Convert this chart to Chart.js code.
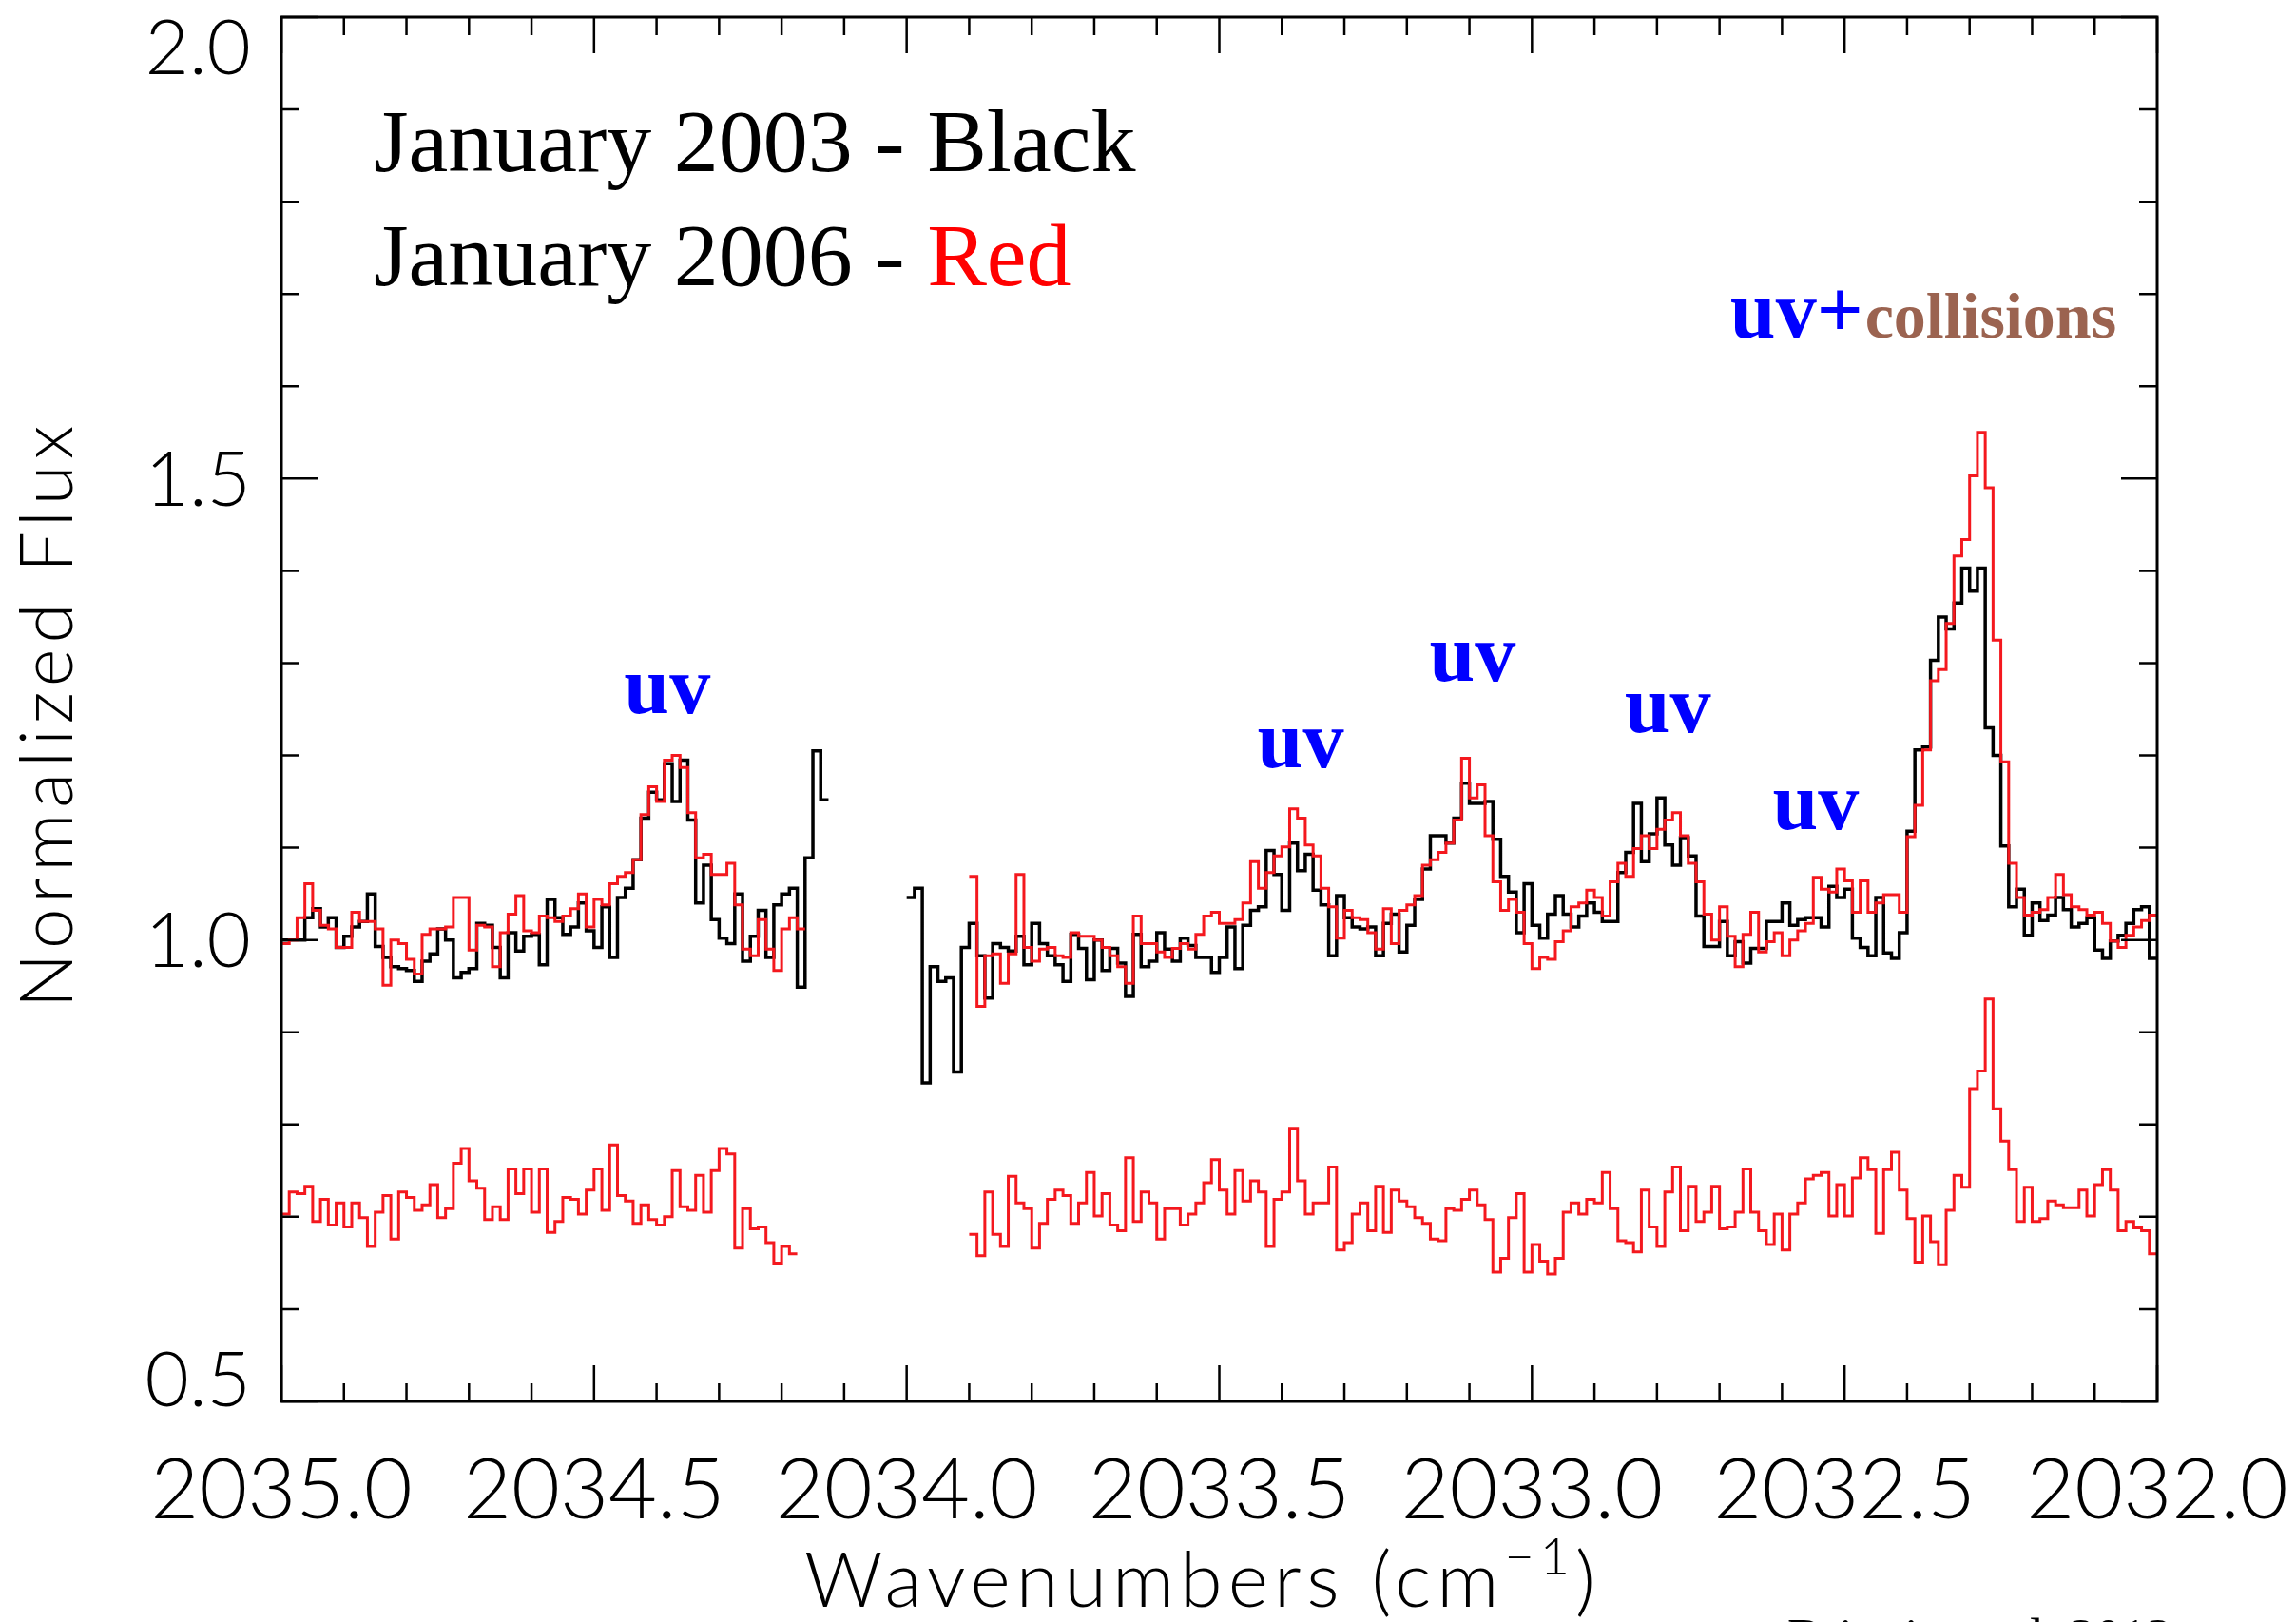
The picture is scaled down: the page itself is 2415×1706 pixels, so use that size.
<!DOCTYPE html>
<html>
<head>
<meta charset="utf-8">
<title>CO emission 2003 vs 2006</title>
<script src="https://cdn.jsdelivr.net/npm/chart.js@4.4.0/dist/chart.umd.min.js"></script>
<style>
  html, body { margin: 0; padding: 0; background: #ffffff; }
  #wrap { width: 2415px; height: 1706px; overflow: hidden; }
</style>
</head>
<body>
<div id="wrap"><canvas id="spectrum" width="2415" height="1706"></canvas></div>
<script>
// spectral grid: bins of constant width, counted from the left edge (2035.0)
const X_START = 2035.0;
const BIN_WIDTH = 0.0125;

// January 2003 (black), two pieces around the gap
const black2003Start1 = 0;
const black2003Seg1 = [
  1.000, 1.000, 1.000, 1.024, 1.034, 1.014, 1.024, 0.992, 1.004, 1.014,
  1.020, 1.050, 0.993, 0.981, 0.971, 0.969, 0.967, 0.955, 0.977, 0.985,
  1.012, 1.000, 0.959, 0.965, 0.969, 1.018, 1.016, 0.992, 0.959, 1.008,
  0.988, 1.004, 1.006, 0.973, 1.044, 1.024, 1.006, 1.014, 1.040, 1.010,
  0.992, 1.036, 0.981, 1.046, 1.056, 1.087, 1.132, 1.160, 1.152, 1.191,
  1.150, 1.195, 1.130, 1.040, 1.081, 1.022, 1.002, 0.996, 1.050, 0.977,
  1.004, 1.032, 0.981, 1.038, 1.050, 1.056, 0.949, 1.089, 1.205, 1.152
];
const black2003Start2 = 80;
const black2003Seg2 = [
  1.046, 1.056, 0.845, 0.971, 0.955, 0.959, 0.857, 0.992, 1.018, 0.983,
  0.937, 0.996, 0.992, 0.988, 1.004, 0.973, 1.018, 0.996, 0.983, 0.973,
  0.955, 1.006, 0.991, 0.957, 1.000, 0.967, 0.991, 0.975, 0.939, 1.006,
  0.971, 0.977, 1.008, 0.990, 0.977, 1.002, 0.994, 0.981, 0.981, 0.965,
  0.981, 1.014, 0.969, 1.016, 1.032, 1.036, 1.097, 1.071, 1.032, 1.105,
  1.075, 1.093, 1.054, 1.038, 0.983, 1.048, 1.024, 1.014, 1.012, 1.014,
  0.983, 1.018, 1.028, 0.987, 1.016, 1.044, 1.077, 1.113, 1.113, 1.105,
  1.132, 1.170, 1.148, 1.148, 1.150, 1.109, 1.069, 1.052, 1.008, 1.061,
  1.016, 1.002, 1.028, 1.048, 1.028, 1.014, 1.026, 1.040, 1.030, 1.020,
  1.020, 1.073, 1.095, 1.148, 1.085, 1.115, 1.154, 1.103, 1.081, 1.111,
  1.091, 1.026, 0.993, 0.993, 1.020, 0.983, 0.998, 0.975, 0.991, 0.991,
  1.020, 1.020, 1.040, 1.016, 1.022, 1.024, 1.024, 1.014, 1.058, 1.046,
  1.055, 1.002, 0.992, 0.983, 1.046, 0.986, 0.980, 1.008, 1.118, 1.206,
  1.209, 1.303, 1.350, 1.337, 1.365, 1.403, 1.378, 1.403, 1.230, 1.200,
  1.102, 1.036, 1.055, 1.005, 1.040, 1.021, 1.027, 1.046, 1.033, 1.014,
  1.018, 1.024, 0.989, 0.980, 0.999, 1.005, 1.018, 1.033, 1.036, 0.980
];

// January 2006 (red)
const red2006Start1 = 0;
const red2006Seg1 = [
  0.996, 1.000, 1.024, 1.061, 1.032, 1.016, 1.012, 0.992, 0.992, 1.030,
  1.020, 1.020, 1.012, 0.951, 1.000, 0.996, 0.979, 0.963, 1.006, 1.012,
  1.012, 1.014, 1.046, 1.046, 0.989, 1.016, 1.014, 0.971, 1.008, 1.028,
  1.048, 1.010, 1.008, 1.026, 1.024, 1.020, 1.026, 1.034, 1.050, 1.014,
  1.044, 1.038, 1.061, 1.069, 1.073, 1.087, 1.136, 1.166, 1.150, 1.195,
  1.200, 1.187, 1.138, 1.089, 1.093, 1.071, 1.071, 1.083, 1.038, 0.990,
  0.983, 1.022, 0.990, 0.967, 1.012, 1.024, 1.012
];
const red2006Start2 = 88;
const red2006Seg2 = [
  1.069, 0.928, 0.983, 0.985, 0.953, 0.985, 1.071, 0.992, 0.977, 0.990,
  0.992, 0.983, 0.981, 1.008, 1.004, 1.004, 1.000, 0.992, 0.983, 0.971,
  0.953, 1.026, 0.996, 0.996, 0.987, 0.981, 0.991, 0.996, 0.990, 1.006,
  1.026, 1.030, 1.018, 1.018, 1.022, 1.040, 1.085, 1.056, 1.073, 1.091,
  1.101, 1.142, 1.132, 1.103, 1.091, 1.056, 1.036, 1.002, 1.032, 1.024,
  1.022, 1.008, 0.990, 1.034, 0.996, 1.032, 1.038, 1.048, 1.081, 1.087,
  1.095, 1.105, 1.130, 1.197, 1.154, 1.168, 1.113, 1.063, 1.032, 1.044,
  1.030, 0.996, 0.969, 0.981, 0.979, 0.998, 1.010, 1.036, 1.040, 1.054,
  1.046, 1.026, 1.063, 1.083, 1.069, 1.099, 1.113, 1.099, 1.120, 1.130,
  1.138, 1.113, 1.083, 1.063, 1.028, 1.000, 1.036, 1.004, 0.971, 1.006,
  1.030, 0.987, 0.998, 1.008, 0.983, 1.000, 1.010, 1.018, 1.068, 1.055,
  1.052, 1.077, 1.064, 1.030, 1.064, 1.030, 1.040, 1.049, 1.049, 1.030,
  1.112, 1.146, 1.206, 1.281, 1.293, 1.343, 1.416, 1.434, 1.503, 1.550,
  1.490, 1.325, 1.193, 1.083, 1.046, 1.027, 1.030, 1.033, 1.046, 1.071,
  1.049, 1.036, 1.033, 1.027, 1.030, 1.018, 0.999, 0.992, 1.005, 1.014,
  1.021, 1.027
];

// difference spectrum (red, offset to ~0.7)
const diffStart1 = 0;
const diffSeg1 = [
  0.703, 0.727, 0.725, 0.733, 0.695, 0.719, 0.691, 0.715, 0.689, 0.715,
  0.699, 0.668, 0.705, 0.723, 0.676, 0.727, 0.721, 0.707, 0.713, 0.735,
  0.699, 0.709, 0.758, 0.774, 0.739, 0.731, 0.697, 0.711, 0.697, 0.752,
  0.725, 0.752, 0.705, 0.752, 0.683, 0.695, 0.721, 0.719, 0.703, 0.729,
  0.752, 0.707, 0.778, 0.723, 0.717, 0.693, 0.713, 0.697, 0.691, 0.700,
  0.750, 0.711, 0.707, 0.745, 0.705, 0.750, 0.774, 0.768, 0.666, 0.709,
  0.687, 0.689, 0.672, 0.650, 0.668, 0.660
];
const diffStart2 = 88;
const diffSeg2 = [
  0.681, 0.658, 0.727, 0.681, 0.668, 0.744, 0.715, 0.709, 0.666, 0.693,
  0.719, 0.729, 0.723, 0.693, 0.715, 0.748, 0.701, 0.725, 0.691, 0.685,
  0.764, 0.695, 0.727, 0.715, 0.676, 0.709, 0.709, 0.691, 0.703, 0.715,
  0.737, 0.762, 0.729, 0.703, 0.750, 0.717, 0.739, 0.727, 0.668, 0.719,
  0.727, 0.796, 0.739, 0.703, 0.715, 0.715, 0.754, 0.664, 0.672, 0.703,
  0.715, 0.685, 0.733, 0.683, 0.729, 0.717, 0.711, 0.699, 0.693, 0.676,
  0.674, 0.709, 0.707, 0.719, 0.729, 0.713, 0.697, 0.640, 0.655, 0.699,
  0.725, 0.640, 0.670, 0.652, 0.638, 0.655, 0.705, 0.715, 0.703, 0.719,
  0.715, 0.748, 0.709, 0.674, 0.672, 0.662, 0.729, 0.689, 0.668, 0.727,
  0.754, 0.685, 0.733, 0.695, 0.705, 0.733, 0.687, 0.689, 0.705, 0.752,
  0.705, 0.685, 0.670, 0.703, 0.664, 0.703, 0.715, 0.741, 0.745, 0.748,
  0.701, 0.735, 0.701, 0.742, 0.764, 0.751, 0.682, 0.751, 0.770, 0.729,
  0.698, 0.651, 0.701, 0.673, 0.648, 0.707, 0.745, 0.732, 0.839, 0.858,
  0.936, 0.817, 0.782, 0.751, 0.695, 0.732, 0.695, 0.698, 0.717, 0.713,
  0.710, 0.710, 0.729, 0.701, 0.735, 0.751, 0.729, 0.685, 0.695, 0.688,
  0.685, 0.660
];

// axes
const X_MIN = 2032.0, X_MAX = 2035.0, X_MAJOR = 0.5, X_MINOR = 0.1;
const Y_MIN = 0.5, Y_MAX = 2.0, Y_MAJOR = 0.5, Y_MINOR = 0.1;

// line annotations (wavenumber, flux of the text baseline)
const uvLabelText = ['uv', 'uv', 'uv', 'uv', 'uv'];
const uvLabelX = [2034.383, 2033.370, 2033.095, 2032.783, 2032.546];
const uvLabelY = [1.246, 1.187, 1.281, 1.225, 1.120];
const collisionsAt = { x: 2032.683, y: 1.653 };

const AXIS_FONT = 'Lato, "Open Sans", sans-serif';
const SERIF = '"Liberation Serif", "DejaVu Serif", serif';
const RED = 'rgb(244, 24, 30)';

// one step-line dataset from several pieces; a null point keeps the gap open
function stepPoints(pieces) {
  const pts = [];
  pieces.forEach(([startBin, vals], n) => {
    if (n > 0) pts.push({ x: X_START - (startBin - 0.5) * BIN_WIDTH, y: null });
    vals.forEach((v, i) => pts.push({ x: X_START - (startBin + i) * BIN_WIDTH, y: v }));
    pts.push({ x: X_START - (startBin + vals.length) * BIN_WIDTH, y: vals[vals.length - 1] });
  });
  return pts;
}

// IDL-style box: frame, inward ticks on all sides, y labels, titles and annotations
const idlFrame = {
  id: 'idlFrame',
  afterDraw(chart) {
    const { ctx, chartArea: area, scales: { x, y } } = chart;
    ctx.save();
    ctx.strokeStyle = '#000';
    ctx.lineWidth = 3;
    ctx.strokeRect(area.left, area.top, area.right - area.left, area.bottom - area.top);

    ctx.lineWidth = 2.5;
    ctx.beginPath();
    const nx = Math.round((X_MAX - X_MIN) / X_MINOR);
    for (let k = 0; k <= nx; k++) {
      const px = x.getPixelForValue(X_MIN + k * X_MINOR);
      const len = k % Math.round(X_MAJOR / X_MINOR) === 0 ? 38 : 19;
      ctx.moveTo(px, area.bottom); ctx.lineTo(px, area.bottom - len);
      ctx.moveTo(px, area.top); ctx.lineTo(px, area.top + len);
    }
    const ny = Math.round((Y_MAX - Y_MIN) / Y_MINOR);
    for (let k = 0; k <= ny; k++) {
      const py = y.getPixelForValue(Y_MIN + k * Y_MINOR);
      const len = k % Math.round(Y_MAJOR / Y_MINOR) === 0 ? 38 : 19;
      ctx.moveTo(area.left, py); ctx.lineTo(area.left + len, py);
      ctx.moveTo(area.right, py); ctx.lineTo(area.right - len, py);
    }
    ctx.stroke();

    // y tick labels, kept inside the box height like IDL does
    ctx.fillStyle = '#000';
    ctx.font = '300 80px ' + AXIS_FONT;
    ctx.textAlign = 'right';
    ctx.textBaseline = 'alphabetic';
    const capY = 80 * 0.72;
    y.ticks.forEach(t => {
      let cy = y.getPixelForValue(t.value);
      cy = Math.min(Math.max(cy, area.top + 31), area.bottom - 24);
      ctx.fillText(t.value.toFixed(1), area.left - 32, cy + capY / 2);
    });

    // y title
    ctx.save();
    ctx.translate(49, (area.top + area.bottom) / 2 + 5);
    ctx.rotate(-Math.PI / 2);
    ctx.textAlign = 'center';
    ctx.font = '300 76px ' + AXIS_FONT;
    ctx.letterSpacing = '6px';
    ctx.fillText('Normalized Flux', 0, 76 * 0.72 / 2);
    ctx.restore();

    // x title with superscript
    ctx.textAlign = 'left';
    ctx.textBaseline = 'alphabetic';
    ctx.letterSpacing = '6px';
    ctx.font = '300 81px ' + AXIS_FONT;
    const t1 = 'Wavenumbers (cm', t3 = ')';
    const w1 = ctx.measureText(t1).width, w3 = ctx.measureText(t3).width;
    ctx.font = '300 54px ' + AXIS_FONT;
    const t2 = '\u22121';
    const w2 = ctx.measureText(t2).width;
    let tx = 1265 - (w1 + w2 + w3) / 2;
    const base = 1690;
    ctx.font = '300 81px ' + AXIS_FONT;
    ctx.fillText(t1, tx, base); tx += w1;
    ctx.font = '300 54px ' + AXIS_FONT;
    ctx.fillText(t2, tx, base - 34); tx += w2;
    ctx.font = '300 81px ' + AXIS_FONT;
    ctx.fillText(t3, tx, base);
    ctx.letterSpacing = '0px';

    // legend text
    ctx.font = '94px ' + SERIF;
    ctx.fillStyle = '#000';
    ctx.fillText('January 2003 - Black', 393, 180);
    const lead = 'January 2006 - ';
    ctx.fillText(lead, 393, 300);
    ctx.fillStyle = '#ff0000';
    ctx.fillText('Red', 393 + ctx.measureText(lead).width, 300);

    // uv annotations
    ctx.font = 'bold 86px ' + SERIF;
    ctx.fillStyle = '#0000ff';
    ctx.textAlign = 'center';
    uvLabelText.forEach((s, i) => {
      ctx.fillText(s, x.getPixelForValue(uvLabelX[i]), y.getPixelForValue(uvLabelY[i]));
    });
    ctx.textAlign = 'left';
    const cx = x.getPixelForValue(collisionsAt.x);
    const cyB = y.getPixelForValue(collisionsAt.y);
    ctx.fillText('uv+', cx, cyB);
    const wuv = ctx.measureText('uv+').width;
    ctx.font = 'bold 68px ' + SERIF;
    ctx.fillStyle = '#9b6350';
    ctx.fillText('collisions', cx + wuv + 2, cyB);

    // citation, cut by the bottom edge
    ctx.font = '54px ' + SERIF;
    ctx.fillStyle = '#000';
    ctx.fillText('Brittain et al. 2013', 1880, 1740);
    ctx.restore();
  }
};

function drawChart() {
  new Chart(document.getElementById('spectrum').getContext('2d'), {
    type: 'line',
    data: {
      datasets: [
        {
          label: 'January 2006',
          data: stepPoints([[red2006Start1, red2006Seg1], [red2006Start2, red2006Seg2]]),
          borderColor: RED, borderWidth: 3, stepped: 'before', order: 1
        },
        {
          label: 'Difference',
          data: stepPoints([[diffStart1, diffSeg1], [diffStart2, diffSeg2]]),
          borderColor: RED, borderWidth: 3, stepped: 'before', order: 1
        },
        {
          label: 'January 2003',
          data: stepPoints([[black2003Start1, black2003Seg1], [black2003Start2, black2003Seg2]]),
          borderColor: '#000000', borderWidth: 3.5, stepped: 'before', order: 2
        }
      ]
    },
    options: {
      responsive: false,
      animation: false,
      spanGaps: false,
      layout: { padding: { top: 18, right: 146, left: 0, bottom: 0 } },
      elements: { point: { radius: 0 }, line: { tension: 0 } },
      plugins: { legend: { display: false }, tooltip: { enabled: false } },
      scales: {
        x: {
          type: 'linear', reverse: true, min: X_MIN, max: X_MAX,
          grid: { display: false, drawTicks: false },
          border: { display: false },
          ticks: {
            stepSize: X_MAJOR, autoSkip: false, maxRotation: 0, padding: 42,
            color: '#000', font: { family: AXIS_FONT, size: 88, weight: '300' },
            callback: v => v.toFixed(1)
          },
          afterFit: s => { s.height = 232; s.paddingLeft = 0; s.paddingRight = 0; }
        },
        y: {
          type: 'linear', min: Y_MIN, max: Y_MAX,
          grid: { display: false, drawTicks: false },
          border: { display: false },
          ticks: { display: false, stepSize: Y_MAJOR },
          afterFit: s => { s.width = 296; s.paddingTop = 0; s.paddingBottom = 0; }
        }
      }
    },
    plugins: [idlFrame]
  });
}

const fontLoads = ['300 80px Lato', 'bold 84px "Liberation Serif"', '94px "Liberation Serif"']
  .map(f => document.fonts.load(f));
Promise.all(fontLoads).catch(() => {}).then(drawChart);
</script>
</body>
</html>
